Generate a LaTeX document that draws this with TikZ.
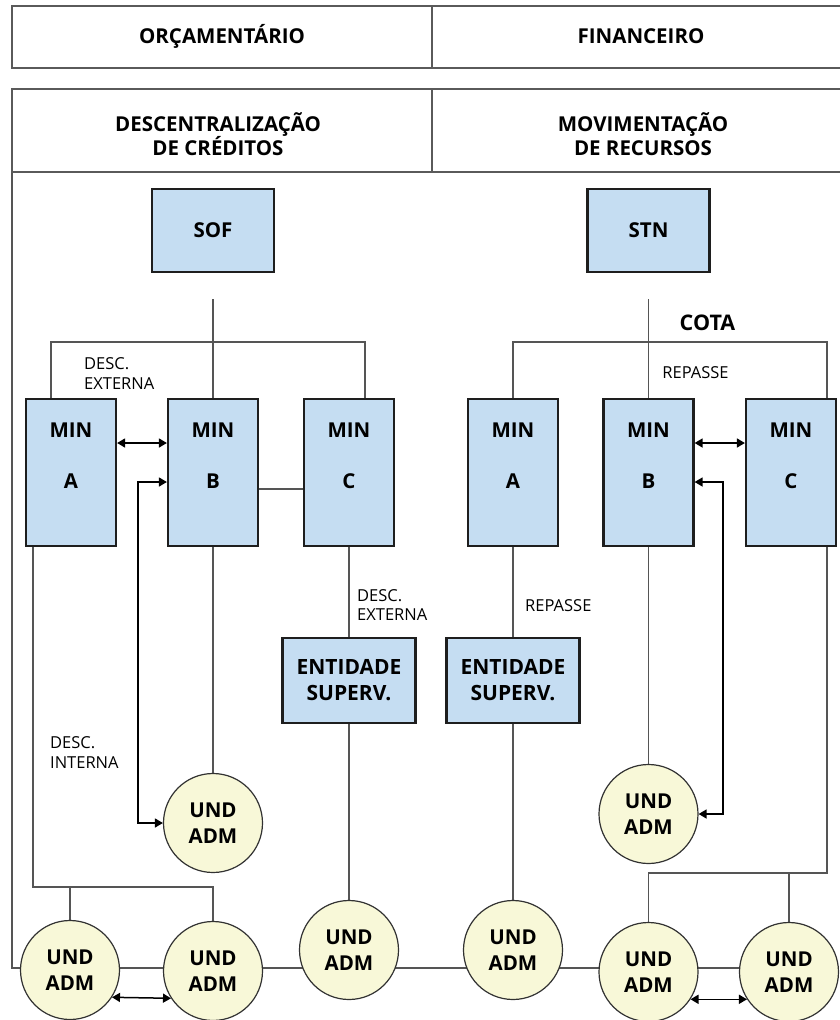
\documentclass[tikz,border=0pt]{standalone}
\usepackage{fontspec}
\setmainfont{Open Sans}
\usetikzlibrary{arrows.meta,backgrounds}

\definecolor{boxfill}{RGB}{197,221,242}
\definecolor{circfill}{RGB}{248,248,216}
\definecolor{boxline}{RGB}{30,30,30}
\definecolor{circline}{RGB}{50,50,50}
\definecolor{linegray}{RGB}{85,85,85}
\definecolor{hdrgray}{RGB}{90,90,90}

\tikzset{
  hdr/.style={draw=hdrgray, line width=1.6pt},
  hdrtext/.style={font=\bfseries\fontsize{20.5}{24.5}\selectfont, align=center, inner sep=0pt},
  bluebox/.style={rectangle, draw=boxline, line width=2.2pt, fill=boxfill, inner sep=0pt},
  minbox/.style={bluebox, minimum width=90pt, minimum height=147pt},
  mintext/.style={font=\bfseries\fontsize{20.5}{24}\selectfont, inner sep=0pt},
  entbox/.style={bluebox, minimum width=133pt, minimum height=85pt, align=center,
    font=\bfseries\fontsize{21}{26}\selectfont},
  und/.style={circle, draw=circline, line width=1.2pt, fill=circfill, minimum size=99pt,
    inner sep=0pt, align=center, font=\bfseries\fontsize{20.5}{25.5}\selectfont},
  lab/.style={font=\fontsize{16.5}{19.5}\selectfont, align=left, anchor=west, inner sep=0pt},
  link/.style={draw=linegray, line width=1.3pt},
  dbl/.style={draw=black, line width=1.5pt,
    {Triangle[length=8pt,width=9pt]}-{Triangle[length=8pt,width=9pt]}},
}

\begin{document}
\begin{tikzpicture}[x=1pt,y=-1pt]
\useasboundingbox (0,0) rectangle (839,1020);

% header bands
\draw[hdr] (842,6) -- (12,6) -- (12,68) -- (842,68);
\draw[hdr] (432,6) -- (432,68);
\draw[hdr] (842,89) -- (12,89) -- (12,172) -- (842,172);
\draw[hdr] (432,89) -- (432,172);
\coordinate (frameL) at (12,172);

\node[hdrtext] (hOrc) at (222,36) {ORÇAMENTÁRIO};
\node[hdrtext] (hFin) at (641,36) {FINANCEIRO};
\node[hdrtext] (hDesc) at (218,134) {DESCENTRALIZAÇÃO\\DE CRÉDITOS};
\node[hdrtext] (hMov) at (643,134) {MOVIMENTAÇÃO\\DE RECURSOS};

% top organs
\node[bluebox, minimum width=122pt, minimum height=83pt, font=\bfseries\fontsize{20.5}{24}\selectfont] (sof) at (213,230.5) {SOF};
\node[bluebox, minimum width=122pt, minimum height=83pt, font=\bfseries\fontsize{20.5}{24}\selectfont] (stn) at (648.5,230.5) {STN};

% ministries
\foreach \n/\x/\l in {minAL/71/A, minBL/213/B, minCL/349/C, minAR/513/A, minBR/648.5/B, minCR/791/C}{
  \node[minbox] (\n) at (\x,472.5) {};
  \node[mintext] (\n-t) at (\x,430) {MIN};
  \node[mintext] (\n-l) at (\x,481) {\l};
}

% supervising entities
\node[entbox] (entL) at (349,680.5) {ENTIDADE\\SUPERV.};
\node[entbox] (entR) at (513,680.5) {ENTIDADE\\SUPERV.};

% administrative units
\node[und] (cML) at (213,823) {UND\\ADM};
\node[und] (cMR) at (648.5,814) {UND\\ADM};
\node[und] (c1) at (70,970) {UND\\ADM};
\node[und] (c2) at (213,971) {UND\\ADM};
\node[und] (c3) at (349,950) {UND\\ADM};
\node[und] (c4) at (513,950) {UND\\ADM};
\node[und] (c5) at (648.5,972) {UND\\ADM};
\node[und] (c6) at (789,972) {UND\\ADM};

% labels
\node[lab] (lExtTop) at (84,373.5) {DESC.\\EXTERNA};
\node[font=\bfseries\fontsize{21.5}{24}\selectfont, inner sep=0pt] (lCota) at (707.5,322.5) {COTA};
\node[lab, anchor=center] (lRepTop) at (695.5,373) {REPASSE};
\node[lab] (lExtMid) at (357,605) {DESC.\\EXTERNA};
\node[lab] (lRepMid) at (525,606) {REPASSE};
\node[lab] (lInt) at (50,752.5) {DESC.\\INTERNA};

% helper points of the connector runs
\coordinate (sofDrop) at (213,299);
\coordinate (stnDrop) at (648.5,299);
\coordinate (lbarA) at (51,342);
\coordinate (lbarC) at (365,342);
\coordinate (rbarA) at (513,342);
\coordinate (rbarC) at (827,342);
\coordinate (lbus) at (33,887);
\coordinate (rbus) at (827,873);
\coordinate (bus) at (0,968);
\coordinate (bcY) at (0,489);
\coordinate (arY) at (0,443);
\coordinate (lloop) at (138,482);
\coordinate (rloop) at (723,482);

\begin{scope}[on background layer]
  % budget side
  \draw[link] (sofDrop) -- (minBL.north);
  \draw[link] (minAL.north -| lbarA) -- (lbarA) -- (lbarC) -- (minCL.north -| lbarC);
  \draw[link] (minBL.east |- bcY) -- (minCL.west |- bcY);
  \draw[link] (minBL.south) -- (cML.north);
  \draw[link] (minCL.south) -- (entL.north);
  \draw[link] (entL.south) -- (c3.north);
  \draw[link] (minAL.south -| lbus) -- (lbus) -- (c2.north |- lbus) -- (c2.north);
  \draw[link] (c1.north |- lbus) -- (c1.north);
  % financial side
  \draw[link] (stnDrop) -- (minBR.north);
  \draw[link] (minAR.north -| rbarA) -- (rbarA) -- (rbarC) -- (minCR.north -| rbarC);
  \draw[link] (minAR.south) -- (entR.north);
  \draw[link] (entR.south) -- (c4.north);
  \draw[link] (minBR.south) -- (cMR.north);
  \draw[link] (minCR.south -| rbus) -- (rbus) -- (c5.north |- rbus) -- (c5.north);
  \draw[link] (c6.north |- rbus) -- (c6.north);
  % bottom line joining the units
  \draw[link] (frameL) -- (frameL |- bus) -- (c1.center |- bus);
  \draw[link] (c1.center |- bus) -- (c2.center |- bus);
  \draw[link] (c2.center |- bus) -- (c3.center |- bus);
  \draw[link] (c3.center |- bus) -- (c4.center |- bus);
  \draw[link] (c4.center |- bus) -- (c5.center |- bus);
  \draw[link] (c5.center |- bus) -- (c6.center |- bus);
\end{scope}

% two-way flows
\draw[dbl] (minAL.east |- arY) -- (minBL.west |- arY);
\draw[dbl] (minBR.east |- arY) -- (minCR.west |- arY);
\draw[dbl] (minBL.west |- lloop) -- (lloop) |- (cML.west);
\draw[dbl] (minBR.east |- rloop) -- (rloop) |- (cMR.east);
\draw[dbl] (c1.-33) -- (c2.-147);
\draw[dbl] (c5.-33) -- (c6.-147);
\end{tikzpicture}
\end{document}
